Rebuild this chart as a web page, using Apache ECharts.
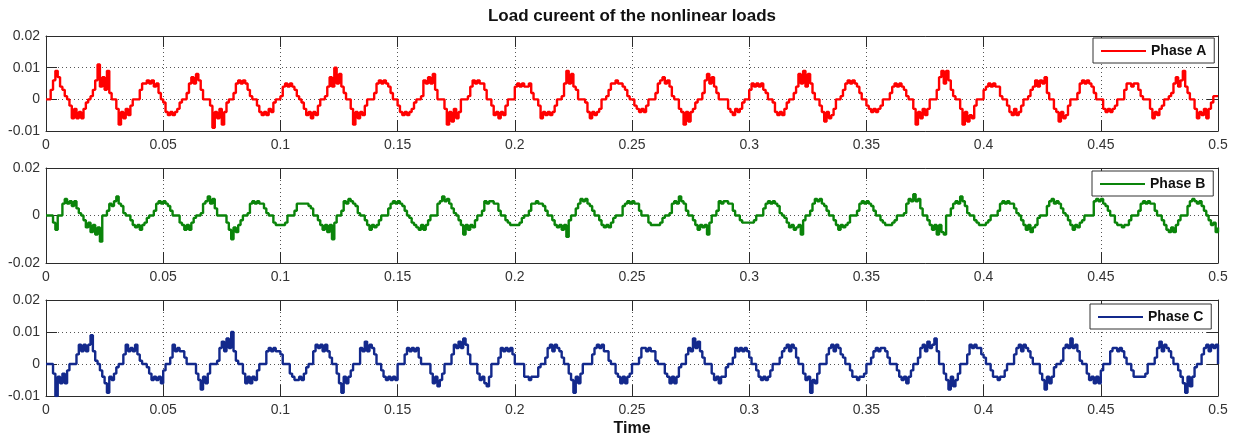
<!DOCTYPE html>
<html>
<head>
<meta charset="utf-8">
<title>Load cureent of the nonlinear loads</title>
<script src="https://cdn.jsdelivr.net/npm/echarts@6/dist/echarts.min.js"></script>
<style>
  html, body { margin: 0; padding: 0; background: #fff; }
  #main { width: 1235px; height: 439px; }
</style>
</head>
<body>
<div id="main"></div>
<script>
// sampled every 1 ms, 0 .. 0.5 s (one row = one 20 ms period)
const sampleStep = 0.001;

const phaseA = [
  0, 0, 0.003, 0.006, 0.009, 0.007, 0.004, 0.003, 0.001, 0, -0.002, -0.006, -0.003, -0.006, -0.004, -0.006, -0.003, -0.001, 0, 0.001,
  0.003, 0.006, 0.011, 0.004, 0.007, 0.003, 0.009, 0.002, 0, 0, -0.003, -0.008, -0.004, -0.006, -0.003, -0.005, -0.002, 0, 0, 0,
  0.003, 0.005, 0.005, 0.006, 0.005, 0.006, 0.004, 0.005, 0.002, 0, -0.001, -0.004, -0.005, -0.004, -0.005, -0.004, -0.003, -0.001, 0, 0,
  0.002, 0.005, 0.007, 0.005, 0.008, 0.006, 0.003, 0, 0, 0, -0.002, -0.009, -0.004, -0.006, -0.003, -0.008, -0.004, -0.001, 0, 0,
  0.002, 0.005, 0.006, 0.005, 0.006, 0.005, 0.003, 0.001, 0, 0, -0.002, -0.004, -0.005, -0.004, -0.005, -0.003, -0.004, -0.001, 0, 0,
  0.001, 0.004, 0.005, 0.004, 0.005, 0.004, 0.003, 0.001, 0, -0.001, -0.003, -0.005, -0.004, -0.006, -0.004, -0.005, -0.002, 0, 0, 0.001,
  0.004, 0.007, 0.004, 0.010, 0.005, 0.008, 0.004, 0.002, 0, 0, -0.003, -0.008, -0.004, -0.006, -0.004, -0.005, -0.002, 0, 0, 0,
  0.002, 0.005, 0.006, 0.005, 0.006, 0.005, 0.004, 0.002, 0, 0, -0.002, -0.004, -0.005, -0.004, -0.005, -0.004, -0.003, -0.001, 0, 0,
  0.001, 0.006, 0.005, 0.007, 0.005, 0.008, 0.003, 0, 0, 0, -0.003, -0.008, -0.004, -0.007, -0.003, -0.006, -0.004, 0, 0, 0,
  0.001, 0.004, 0.006, 0.005, 0.006, 0.005, 0.005, 0.003, 0, 0, -0.002, -0.005, -0.004, -0.006, -0.004, -0.005, -0.002, 0, 0, 0,
  0.004, 0.005, 0.004, 0.005, 0.004, 0.004, 0.005, 0.002, 0, 0, -0.002, -0.006, -0.004, -0.005, -0.004, -0.005, -0.004, -0.002, 0, 0,
  0.001, 0.005, 0.009, 0.005, 0.008, 0.004, 0.003, 0, 0, 0, -0.001, -0.004, -0.006, -0.004, -0.005, -0.004, -0.003, 0, 0, 0.001,
  0.003, 0.005, 0.005, 0.006, 0.005, 0.005, 0.004, 0.003, 0.001, 0, 0, -0.002, -0.003, -0.004, -0.003, -0.004, -0.002, 0, 0, 0,
  0.002, 0.005, 0.006, 0.007, 0.005, 0.006, 0.004, 0.001, 0, 0, -0.003, -0.004, -0.008, -0.004, -0.007, -0.004, -0.003, -0.001, 0, 0,
  0.002, 0.006, 0.008, 0.005, 0.007, 0.004, 0.002, 0, 0, 0, 0, -0.003, -0.004, -0.005, -0.003, -0.004, -0.003, -0.001, 0, 0,
  0.003, 0.005, 0.004, 0.005, 0.004, 0.005, 0.003, 0.002, 0, 0, -0.001, -0.004, -0.005, -0.004, -0.005, -0.003, -0.001, 0, 0, 0.002,
  0.004, 0.008, 0.005, 0.009, 0.004, 0.008, 0.005, 0.002, 0, 0, -0.002, -0.004, -0.007, -0.004, -0.006, -0.005, -0.003, 0, 0, 0.001,
  0.003, 0.005, 0.006, 0.005, 0.006, 0.005, 0.004, 0.002, 0, 0, -0.002, -0.003, -0.004, -0.003, -0.004, -0.003, -0.002, 0, 0, 0,
  0.002, 0.004, 0.005, 0.004, 0.005, 0.004, 0.003, 0.001, 0, 0, -0.003, -0.008, -0.004, -0.006, -0.003, -0.005, -0.003, 0, 0, 0,
  0.003, 0.007, 0.009, 0.005, 0.009, 0.006, 0.003, 0.001, 0, 0, -0.003, -0.008, -0.004, -0.007, -0.005, -0.006, -0.002, 0, 0, 0,
  0.003, 0.004, 0.005, 0.004, 0.005, 0.004, 0.004, 0.001, 0, 0, -0.002, -0.004, -0.005, -0.003, -0.005, -0.004, -0.002, 0, 0, 0.001,
  0.003, 0.004, 0.006, 0.004, 0.006, 0.005, 0.007, 0.002, 0, 0, -0.003, -0.004, -0.007, -0.004, -0.006, -0.005, -0.002, 0, 0, 0,
  0.002, 0.005, 0.006, 0.005, 0.006, 0.005, 0.004, 0.002, 0, 0, 0, -0.003, -0.004, -0.003, -0.004, -0.003, -0.002, 0, 0, 0,
  0.003, 0.005, 0.005, 0.004, 0.005, 0.005, 0.003, 0.001, 0, 0, 0, -0.003, -0.006, -0.004, -0.005, -0.003, -0.002, 0, 0, 0.001,
  0.002, 0.005, 0.007, 0.004, 0.006, 0.009, 0.004, 0.002, 0, 0, -0.003, -0.006, -0.004, -0.005, -0.003, -0.006, -0.003, -0.001, 0.001, 0.001,
  0.001
];

const phaseB = [
  0, 0, 0, -0.003, -0.006, 0, 0, 0.005, 0.007, 0.005, 0.006, 0.004, 0.006, 0.003, 0.001, 0, -0.002, -0.005, -0.003, -0.007,
  -0.004, -0.008, -0.005, -0.011, 0, 0, 0.002, 0.005, 0.004, 0.006, 0.008, 0.005, 0.004, 0.001, 0, 0, -0.002, -0.004, -0.005, -0.004,
  -0.006, -0.004, -0.003, -0.001, 0, 0, 0.002, 0.005, 0.006, 0.005, 0.006, 0.005, 0.004, 0.002, 0, 0, 0, -0.003, -0.004, -0.006,
  -0.004, -0.006, -0.003, -0.001, 0, 0, 0.001, 0.005, 0.006, 0.008, 0.005, 0.007, 0.003, 0, 0, 0, 0, -0.003, -0.006, -0.010,
  -0.005, -0.007, -0.004, -0.002, 0, 0, 0.001, 0.005, 0.006, 0.005, 0.006, 0.005, 0.005, 0.003, 0.001, 0, 0, -0.003, -0.004, -0.004,
  -0.004, -0.004, -0.003, 0, 0, 0, 0.002, 0.005, 0.005, 0.005, 0.005, 0.005, 0.004, 0.003, 0, 0, -0.002, -0.004, -0.006, -0.004,
  -0.007, -0.004, -0.010, -0.003, 0, 0, 0.002, 0.006, 0.005, 0.007, 0.006, 0.005, 0.004, 0.001, 0, 0, -0.002, -0.004, -0.006, -0.004,
  -0.005, -0.004, -0.002, 0, 0, 0, 0.003, 0.005, 0.006, 0.005, 0.006, 0.005, 0.004, 0.002, 0, -0.001, -0.003, -0.004, -0.005, -0.006,
  -0.004, -0.006, -0.004, -0.002, 0, 0, 0, 0.005, 0.006, 0.008, 0.006, 0.007, 0.005, 0.003, 0.001, 0, -0.002, -0.004, -0.008, -0.004,
  -0.006, -0.004, -0.005, -0.002, 0, 0, 0.002, 0.006, 0.005, 0.006, 0.006, 0.005, 0.005, 0.002, 0, 0, -0.002, -0.003, -0.004, -0.004,
  -0.004, -0.004, -0.003, -0.001, 0, 0, 0.002, 0.005, 0.005, 0.006, 0.005, 0.005, 0.004, 0.002, 0, 0, -0.002, -0.004, -0.005, -0.004,
  -0.006, -0.004, -0.009, -0.002, 0, 0, 0.003, 0.005, 0.007, 0.006, 0.007, 0.005, 0.004, 0.002, 0, 0, -0.002, -0.004, -0.005, -0.004,
  -0.005, -0.003, -0.001, 0, 0, 0, 0.004, 0.005, 0.006, 0.005, 0.006, 0.005, 0.005, 0.002, 0, 0, 0, -0.003, -0.004, -0.004,
  -0.004, -0.004, -0.003, -0.001, 0, 0, 0.001, 0.005, 0.006, 0.005, 0.008, 0.006, 0.005, 0.002, 0, 0, -0.002, -0.004, -0.006, -0.004,
  -0.005, -0.004, -0.008, -0.003, 0, 0, 0.002, 0.006, 0.005, 0.006, 0.006, 0.005, 0.005, 0.002, 0, 0, -0.002, -0.003, -0.003, -0.003,
  -0.003, -0.003, -0.002, 0, 0, 0, 0.003, 0.005, 0.006, 0.005, 0.006, 0.005, 0.004, 0.001, 0, -0.001, -0.003, -0.005, -0.004, -0.006,
  -0.005, -0.004, -0.008, -0.002, 0, 0, 0.002, 0.005, 0.007, 0.006, 0.007, 0.005, 0.004, 0.002, 0, 0, -0.002, -0.004, -0.006, -0.004,
  -0.005, -0.004, -0.003, 0, 0, 0, 0.002, 0.005, 0.006, 0.005, 0.006, 0.005, 0.004, 0.002, 0, 0, -0.002, -0.003, -0.004, -0.004,
  -0.004, -0.003, -0.002, 0, 0, 0, 0.001, 0.005, 0.007, 0.006, 0.009, 0.006, 0.007, 0.003, 0, 0, -0.002, -0.004, -0.006, -0.004,
  -0.008, -0.004, -0.007, -0.008, 0, 0, 0.003, 0.005, 0.006, 0.005, 0.008, 0.006, 0.004, 0.001, 0, 0, -0.002, -0.003, -0.004, -0.004,
  -0.004, -0.003, -0.002, 0, 0, 0, 0.002, 0.005, 0.006, 0.005, 0.006, 0.005, 0.005, 0.003, 0.001, 0, -0.002, -0.004, -0.006, -0.004,
  -0.007, -0.005, -0.004, -0.001, 0, 0, 0, 0.004, 0.006, 0.007, 0.005, 0.006, 0.005, 0.003, 0.001, 0, -0.002, -0.004, -0.006, -0.004,
  -0.005, -0.003, -0.002, 0, 0, 0, 0, 0.006, 0.007, 0.006, 0.007, 0.005, 0.004, 0.002, 0, 0, -0.003, -0.004, -0.004, -0.005,
  -0.004, -0.004, -0.002, 0, 0, 0, 0.002, 0.005, 0.006, 0.005, 0.006, 0.005, 0.005, 0.002, 0, 0, -0.002, -0.004, -0.006, -0.007,
  -0.005, -0.007, -0.004, -0.002, 0, 0, 0, 0.004, 0.006, 0.007, 0.006, 0.005, 0.006, 0.004, 0.002, 0, -0.002, -0.004, -0.003, -0.007,
  -0.005
];

const phaseC = [
  0, 0, 0, -0.003, -0.010, -0.004, -0.006, -0.003, -0.006, -0.002, 0, 0, 0, 0.003, 0.006, 0.004, 0.006, 0.004, 0.006, 0.009,
  0.004, 0.001, 0, -0.002, -0.004, -0.006, -0.009, -0.004, -0.005, -0.003, -0.001, 0, 0, 0.003, 0.006, 0.004, 0.005, 0.004, 0.006, 0.003,
  0.001, 0, 0, -0.001, -0.003, -0.005, -0.004, -0.005, -0.004, -0.006, -0.002, 0, 0, 0.002, 0.006, 0.004, 0.005, 0.004, 0.004, 0.002,
  0, 0, 0, 0, -0.003, -0.005, -0.008, -0.004, -0.006, -0.003, 0, 0, 0, 0.001, 0.005, 0.007, 0.004, 0.008, 0.005, 0.010,
  0.004, 0.001, 0, 0, -0.003, -0.006, -0.004, -0.006, -0.004, -0.005, -0.002, 0, 0, 0, 0.004, 0.005, 0.004, 0.005, 0.004, 0.004,
  0.003, 0, 0, 0, -0.003, -0.004, -0.005, -0.005, -0.004, -0.005, -0.003, -0.001, 0, 0, 0.004, 0.006, 0.005, 0.006, 0.004, 0.006,
  0.004, 0.002, 0, 0, -0.003, -0.006, -0.009, -0.004, -0.006, -0.004, -0.002, 0, 0, 0, 0.005, 0.004, 0.007, 0.004, 0.006, 0.005,
  0.003, 0, 0, -0.002, -0.004, -0.005, -0.004, -0.005, -0.004, -0.005, 0, 0, 0, 0.003, 0.005, 0.004, 0.005, 0.004, 0.005, 0.002,
  0, 0, 0, 0, -0.003, -0.006, -0.004, -0.007, -0.005, -0.003, 0, 0, 0, 0.003, 0.006, 0.005, 0.007, 0.005, 0.008, 0.006,
  0.003, 0, 0, 0, -0.003, -0.005, -0.004, -0.006, -0.007, -0.004, 0, 0, 0, 0.002, 0.005, 0.004, 0.005, 0.004, 0.005, 0.003,
  0, 0, 0, 0, -0.004, -0.004, -0.005, -0.004, -0.004, -0.004, -0.001, 0, 0, 0.002, 0.005, 0.006, 0.004, 0.006, 0.005, 0.004,
  0.002, 0, 0, -0.003, -0.005, -0.009, -0.004, -0.006, -0.003, 0, 0, 0, 0, 0.003, 0.005, 0.006, 0.005, 0.006, 0.004, 0.004,
  0.001, 0, 0, -0.003, -0.004, -0.006, -0.004, -0.006, -0.004, -0.003, 0, 0, 0, 0.002, 0.005, 0.005, 0.004, 0.005, 0.004, 0.004,
  0.001, 0, 0, 0, -0.003, -0.004, -0.006, -0.004, -0.006, -0.004, -0.001, 0, 0, 0.003, 0.005, 0.004, 0.008, 0.005, 0.007, 0.004,
  0.002, 0, 0, 0, -0.003, -0.005, -0.004, -0.006, -0.004, -0.004, -0.001, 0, 0, 0.002, 0.005, 0.004, 0.005, 0.004, 0.005, 0.004,
  0.002, 0, 0, -0.002, -0.004, -0.005, -0.004, -0.005, -0.004, -0.002, 0, 0, 0, 0.002, 0.004, 0.005, 0.006, 0.004, 0.006, 0.005,
  0.002, 0, 0, -0.003, -0.005, -0.004, -0.009, -0.005, -0.006, -0.003, 0, 0, 0, 0.003, 0.005, 0.006, 0.004, 0.006, 0.005, 0.003,
  0.002, 0, 0, -0.002, -0.004, -0.004, -0.005, -0.004, -0.004, -0.003, 0, 0, 0.002, 0.004, 0.005, 0.004, 0.005, 0.005, 0.004, 0.002,
  0, 0, 0, -0.002, -0.004, -0.005, -0.004, -0.006, -0.004, -0.002, 0, 0, 0.002, 0.005, 0.006, 0.004, 0.007, 0.005, 0.006, 0.008,
  0.004, 0, 0, -0.003, -0.005, -0.008, -0.004, -0.007, -0.005, -0.003, 0, 0, 0, 0.003, 0.006, 0.005, 0.006, 0.005, 0.005, 0.003,
  0.002, 0, 0, -0.002, -0.004, -0.004, -0.005, -0.004, -0.004, -0.002, 0, 0, 0, 0.003, 0.005, 0.006, 0.004, 0.006, 0.005, 0.004,
  0.002, 0, 0, 0, -0.003, -0.005, -0.008, -0.004, -0.006, -0.004, -0.001, 0, 0, 0.001, 0.005, 0.006, 0.005, 0.008, 0.005, 0.006,
  0.004, 0.001, 0, 0, -0.003, -0.005, -0.004, -0.006, -0.004, -0.006, -0.002, 0, 0, 0, 0.004, 0.005, 0.005, 0.004, 0.005, 0.004,
  0.002, 0, 0, -0.002, -0.004, -0.004, -0.004, -0.004, -0.004, -0.003, 0, 0, 0, 0.002, 0.005, 0.007, 0.004, 0.006, 0.005, 0.004,
  0.002, 0, 0, -0.002, -0.004, -0.006, -0.009, -0.004, -0.007, -0.004, -0.001, 0, 0, 0.003, 0.005, 0.006, 0.004, 0.006, 0.005, 0.006,
  0
];

const seriesNames = ["Phase A", "Phase B", "Phase C"];
const seriesColors = ["#ff0000", "#0a840a", "#13298c"];

const font = "'Liberation Sans', Arial, sans-serif";
const axisColor = "#2b2b2b";

function toPoints(values) {
  return values.map((v, i) => [i * sampleStep, v]);
}

// one grid per phase, MATLAB subplot style
const grids = [
  { left: 46, right: 17, top: 36, height: 95 },
  { left: 46, right: 17, top: 168, height: 95 },
  { left: 46, right: 17, top: 300, height: 96 }
];
const yRanges = [
  { min: -0.01, max: 0.02, interval: 0.01 },
  { min: -0.02, max: 0.02, interval: 0.02 },
  { min: -0.01, max: 0.02, interval: 0.01 }
];

const dotted = { color: "#555", type: [1, 3], width: 1 };

let xAxis = [];
let yAxis = [];
grids.forEach((g, i) => {
  // bottom axis with labels
  xAxis.push({
    type: "value", gridIndex: i, position: "bottom",
    min: 0, max: 0.5, interval: 0.05,
    axisLine: { show: true, onZero: false, lineStyle: { color: axisColor, width: 1 } },
    axisTick: { show: true, inside: true, length: 11, lineStyle: { color: axisColor } },
    axisLabel: { color: "#333", fontSize: 14, fontFamily: font, margin: 7 },
    splitLine: { show: true, lineStyle: dotted },
    name: i === 2 ? "Time" : "",
    nameLocation: "middle",
    nameGap: 25,
    nameTextStyle: { color: "#111", fontSize: 16, fontWeight: "bold", fontFamily: font }
  });
  // top edge of the box
  xAxis.push({
    type: "value", gridIndex: i, position: "top",
    min: 0, max: 0.5, interval: 0.05,
    axisLine: { show: true, onZero: false, lineStyle: { color: axisColor, width: 1 } },
    axisTick: { show: true, inside: true, length: 11, lineStyle: { color: axisColor } },
    axisLabel: { show: false },
    splitLine: { show: false }
  });
  yAxis.push({
    type: "value", gridIndex: i, position: "left",
    min: yRanges[i].min, max: yRanges[i].max, interval: yRanges[i].interval,
    axisLine: { show: true, onZero: false, lineStyle: { color: axisColor, width: 1 } },
    axisTick: { show: true, inside: true, length: 11, lineStyle: { color: axisColor } },
    axisLabel: { color: "#333", fontSize: 14, fontFamily: font, margin: 6 },
    splitLine: { show: true, lineStyle: dotted }
  });
  yAxis.push({
    type: "value", gridIndex: i, position: "right",
    min: yRanges[i].min, max: yRanges[i].max, interval: yRanges[i].interval,
    axisLine: { show: true, onZero: false, lineStyle: { color: axisColor, width: 1 } },
    axisTick: { show: true, inside: true, length: 11, lineStyle: { color: axisColor } },
    axisLabel: { show: false },
    splitLine: { show: false }
  });
});

const legendPos = [
  { left: 1093, top: 38 },
  { left: 1092, top: 171 },
  { left: 1090, top: 304 }
];

const data = [phaseA, phaseB, phaseC];

const option = {
  backgroundColor: "#fff",
  animation: false,
  title: {
    text: "Load cureent of the nonlinear loads",
    left: 632, top: 8, padding: 0,
    textAlign: "center",
    textStyle: { fontSize: 17, fontWeight: "bold", color: "#111", fontFamily: font }
  },
  grid: grids,
  xAxis: xAxis,
  yAxis: yAxis,
  legend: seriesNames.map((name, i) => ({
    data: [name],
    left: legendPos[i].left,
    top: legendPos[i].top,
    orient: "horizontal",
    backgroundColor: "#fff",
    borderColor: "#333",
    borderWidth: 1,
    borderRadius: 0,
    padding: [6, 8, 5, 8],
    icon: "rect",
    itemWidth: 45,
    itemHeight: 2,
    itemGap: 5,
    selectedMode: false,
    textStyle: { fontSize: 14, fontWeight: "bold", color: "#111", fontFamily: font, padding: [0, 0, 0, 0] }
  })),
  series: seriesNames.map((name, i) => ({
    name: name,
    type: "line",
    step: "end",
    xAxisIndex: i * 2,
    yAxisIndex: i * 2,
    symbol: "none",
    color: seriesColors[i],
    lineStyle: { color: seriesColors[i], width: 2.4 },
    data: toPoints(data[i])
  }))
};

const chart = echarts.init(document.getElementById("main"), null, { renderer: "canvas" });
chart.setOption(option);
</script>
</body>
</html>
